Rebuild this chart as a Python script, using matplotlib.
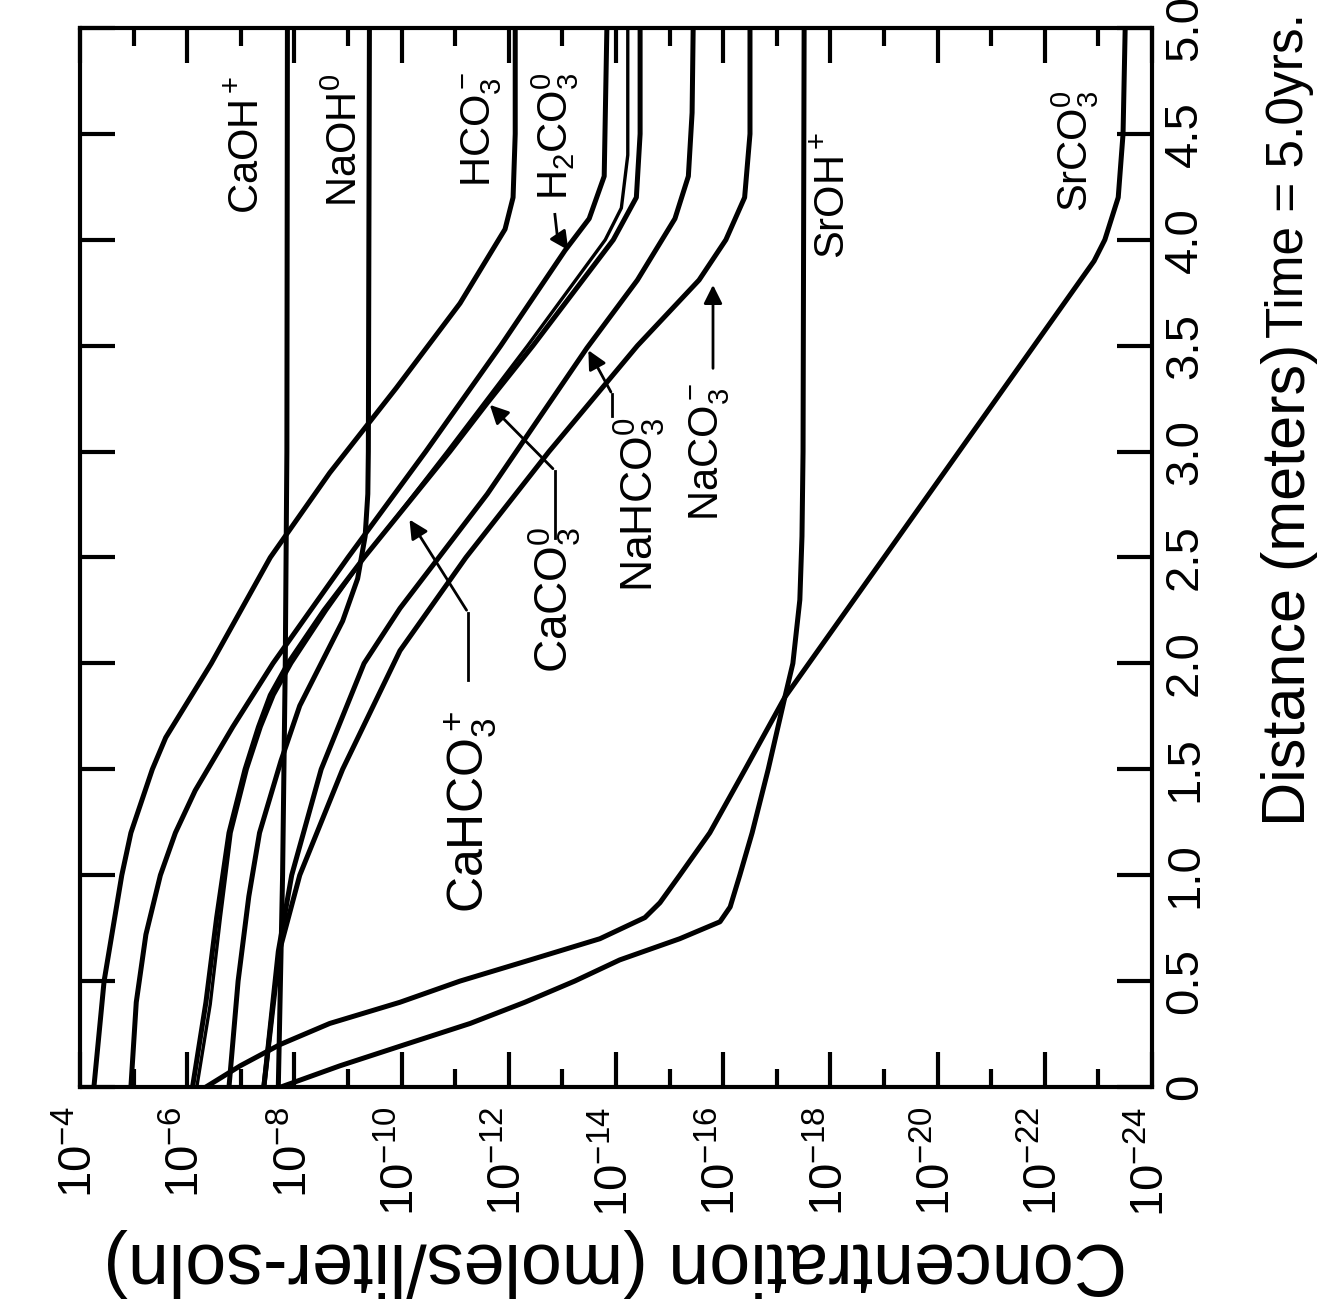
import numpy as np
import matplotlib
matplotlib.use("Agg")
import matplotlib.pyplot as plt
from matplotlib.ticker import FixedLocator, NullFormatter

plt.rcParams["font.family"] = ["Liberation Sans", "DejaVu Sans"]
plt.rcParams["mathtext.fontset"] = "custom"
plt.rcParams["mathtext.rm"] = "Liberation Sans"
plt.rcParams["mathtext.it"] = "Liberation Sans"
plt.rcParams["mathtext.default"] = "rm"

# distance (m) and log10 concentration (moles/liter-soln) per species
caoh_d = [0, 1.0, 2.0, 3.0, 5.0]
caoh_logc = [-7.7, -7.78, -7.83, -7.86, -7.87]

naoh_d = [0, 0.5, 0.9, 1.2, 1.54, 1.8, 2.0, 2.2, 2.4, 2.6, 2.8, 3.0, 5.0]
naoh_logc = [-6.78, -6.95, -7.15, -7.35, -7.75, -8.1, -8.5, -8.9, -9.18, -9.32,
             -9.37, -9.38, -9.4]

hco3_d = [0, 0.5, 1.0, 1.2, 1.5, 1.65, 2.0, 2.5, 2.9, 3.3, 3.7, 4.05, 4.2, 4.5, 5.0]
hco3_logc = [-4.26, -4.45, -4.78, -4.95, -5.35, -5.6, -6.45, -7.55, -8.66, -9.9,
             -11.09, -11.93, -12.08, -12.12, -12.12]

h2co3_d = [0, 0.4, 0.72, 1.0, 1.2, 1.4, 1.7, 2.0, 2.5, 3.0, 3.5, 3.95, 4.1, 4.3, 5.0]
h2co3_logc = [-4.95, -5.05, -5.23, -5.5, -5.78, -6.15, -6.85, -7.6, -9.0, -10.45,
              -11.85, -13.05, -13.5, -13.78, -13.83]

cahco3_d = [0, 0.39, 0.8, 1.2, 1.5, 1.7, 1.85, 2.0, 2.25, 2.5, 2.69, 3.0, 3.5, 4.0,
            4.15, 4.4, 5.0]
cahco3_logc = [-6.18, -6.43, -6.62, -6.82, -7.12, -7.38, -7.62, -7.95, -8.6, -9.3,
               -9.9, -10.85, -12.35, -13.8, -14.1, -14.22, -14.22]

caco3_d = [0, 0.4, 0.8, 1.2, 1.5, 1.7, 1.85, 2.0, 2.25, 2.5, 3.0, 3.23, 3.5, 4.0,
           4.2, 4.5, 5.0]
caco3_logc = [-6.1, -6.35, -6.55, -6.78, -7.08, -7.33, -7.55, -7.88, -8.55, -9.3,
              -10.9, -11.6, -12.45, -13.95, -14.38, -14.45, -14.45]

nahco3_d = [0, 0.64, 1.0, 1.5, 2.0, 2.26, 2.8, 3.49, 3.81, 4.1, 4.3, 4.6, 5.0]
nahco3_logc = [-7.43, -7.7, -7.95, -8.5, -9.3, -9.97, -11.6, -13.46, -14.4, -15.1,
               -15.35, -15.42, -15.44]

naco3_d = [0, 0.64, 1.0, 1.5, 2.06, 2.5, 3.0, 3.5, 3.81, 4.0, 4.2, 4.5, 5.0]
naco3_logc = [-7.43, -7.72, -8.1, -8.9, -9.97, -11.2, -12.75, -14.4, -15.55, -16.05,
              -16.4, -16.5, -16.5]

sroh_d = [0, 0.1, 0.2, 0.3, 0.4, 0.5, 0.6, 0.7, 0.78, 0.85, 1.0, 1.2, 1.5, 1.84,
          2.0, 2.3, 2.6, 3.0, 5.0]
sroh_logc = [-7.75, -8.85, -10.06, -11.28, -12.3, -13.23, -14.07, -15.19, -15.94,
             -16.13, -16.31, -16.54, -16.84, -17.15, -17.3, -17.43, -17.47, -17.49, -17.51]

srco3_d = [0, 0.1, 0.2, 0.3, 0.4, 0.5, 0.6, 0.7, 0.8, 0.87, 1.0, 1.2, 1.5, 1.84,
           2.5, 3.0, 3.5, 3.9, 4.0, 4.2, 4.5, 5.0]
srco3_logc = [-6.35, -6.99, -7.73, -8.66, -9.97, -11.09, -12.4, -13.7, -14.54, -14.82,
              -15.19, -15.75, -16.41, -17.15, -19.0, -20.4, -21.8, -22.92, -23.12,
              -23.37, -23.46, -23.5]

conc_exponents = [-4, -6, -8, -10, -12, -14, -16, -18, -20, -22, -24]
distance_ticks = [0, 0.5, 1.0, 1.5, 2.0, 2.5, 3.0, 3.5, 4.0, 4.5, 5.0]
distance_labels = ["0", "0.5", "1.0", "1.5", "2.0", "2.5", "3.0", "3.5", "4.0", "4.5", "5.0"]

curves = [
    (caoh_d, caoh_logc, 3.6),
    (naoh_d, naoh_logc, 3.6),
    (hco3_d, hco3_logc, 3.6),
    (h2co3_d, h2co3_logc, 3.6),
    (cahco3_d, cahco3_logc, 2.4),
    (caco3_d, caco3_logc, 3.6),
    (nahco3_d, nahco3_logc, 3.6),
    (naco3_d, naco3_logc, 3.6),
    (sroh_d, sroh_logc, 3.6),
    (srco3_d, srco3_logc, 3.6),
]

fig = plt.figure(figsize=(13.22, 13.15), dpi=100)
ax = fig.add_axes([0.0605, 0.1734, 0.8109, 0.8053])

for dist, logc, lw in curves:
    ax.plot(10.0 ** np.asarray(logc), dist, color="black", lw=lw,
            solid_joinstyle="round", solid_capstyle="round")

ax.set_xscale("log")
ax.set_xlim(1e-4, 1e-24)
ax.set_ylim(0, 5)

ax.xaxis.set_major_locator(FixedLocator([10.0 ** e for e in conc_exponents]))
ax.xaxis.set_minor_locator(FixedLocator([10.0 ** e for e in range(-5, -24, -2)]))
ax.xaxis.set_minor_formatter(NullFormatter())
ax.set_xticklabels([rf"$10^{{{e}}}$" for e in conc_exponents])
ax.tick_params(axis="x", which="major", direction="in", length=25, width=3,
               top=True, bottom=True, labelrotation=90, labelsize=34, pad=14)
ax.tick_params(axis="x", which="minor", direction="in", length=13, width=3,
               top=True, bottom=True)

ax.set_yticks(distance_ticks)
ax.set_yticklabels(distance_labels)
ax.tick_params(axis="y", direction="in", length=25, width=3, left=True, right=True,
               labelleft=False, labelright=True, labelrotation=90, labelsize=34, pad=8)
for lab in ax.get_yticklabels():
    lab.set_va("center")

for sp in ax.spines.values():
    sp.set_linewidth(3)


def lab(text, e, d, size=30):
    ax.text(10.0 ** e, d, text, rotation=90, ha="center", va="center", fontsize=size)


def arrow(points):
    # bent leader line ending in an arrow head on the curve
    xs = [10.0 ** p[0] for p in points]
    ys = [p[1] for p in points]
    ax.plot(xs[:-1], ys[:-1], color="black", lw=2)
    ax.annotate("", xy=(xs[-1], ys[-1]), xytext=(xs[-2], ys[-2]),
                arrowprops=dict(arrowstyle="-|>", color="black", lw=2, mutation_scale=28))


lab(r"CaOH$^+$", -7.13, 4.45)
lab(r"NaOH$^0$", -8.95, 4.47)
lab(r"HCO$_3^-$", -11.5, 4.52)
lab(r"H$_2$CO$_3^0$", -12.86, 4.49)
arrow([(-12.86, 4.12), (-12.9, 4.03), (-13.14, 3.94)])
lab(r"SrOH$^+$", -18.05, 4.21)
lab(r"SrCO$_3^0$", -22.56, 4.42)
lab(r"CaHCO$_3^+$", -11.28, 1.30, size=36)
arrow([(-11.24, 1.92), (-11.24, 2.24), (-10.12, 2.69)])
lab(r"CaCO$_3^0$", -12.86, 2.30, size=33)
arrow([(-12.86, 2.59), (-12.86, 2.91), (-11.61, 3.23)])
lab(r"NaHCO$_3^0$", -14.45, 2.75, size=32)
arrow([(-13.93, 3.17), (-13.93, 3.27), (-13.46, 3.49)])
lab(r"NaCO$_3^-$", -15.75, 3.0)
arrow([(-15.81, 3.38), (-15.81, 3.80)])

fig.text(1290 / 1322, 1 - 175 / 1315, "Time = 5.0yrs.", rotation=90,
         ha="center", va="center", fontsize=37)
fig.text(1290 / 1322, 1 - 585 / 1315, "Distance (meters)", rotation=90,
         ha="center", va="center", fontsize=44)
fig.text(615 / 1322, 1 - 1262 / 1315, "Concentration (moles/liter-soln)", rotation=180,
         ha="center", va="center", fontsize=53)

fig.savefig("out.png", dpi=100)
